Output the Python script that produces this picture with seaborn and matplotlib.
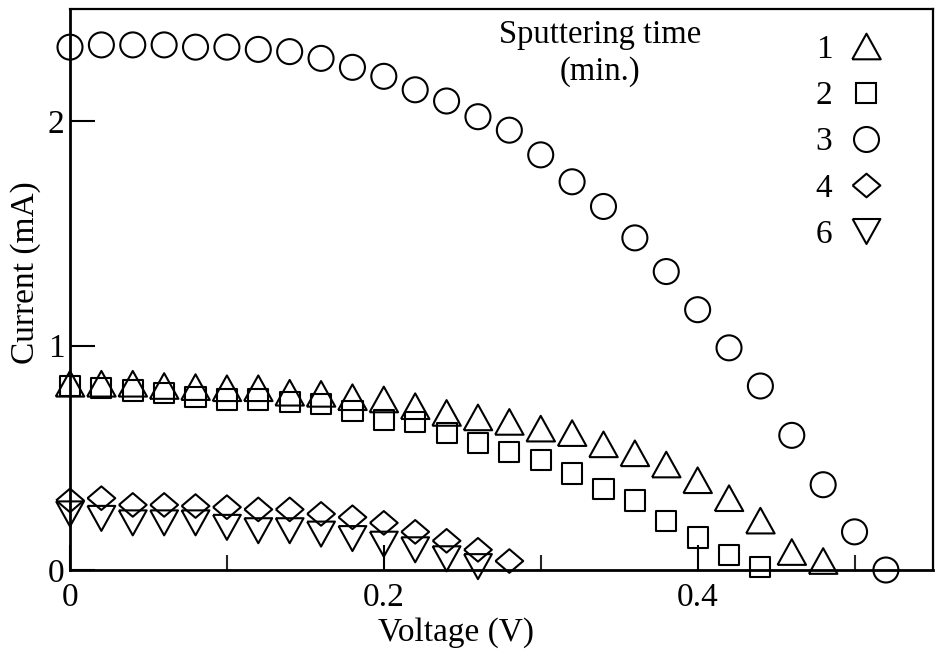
import numpy as np
import pandas as pd
import matplotlib
matplotlib.use("Agg")
import matplotlib.pyplot as plt
from matplotlib.lines import Line2D
import seaborn as sns

# sputtering time (min.) -> I-V data
v1 = [0.00, 0.02, 0.04, 0.06, 0.08, 0.10, 0.12, 0.14, 0.16, 0.18, 0.20, 0.22, 0.24,
      0.26, 0.28, 0.30, 0.32, 0.34, 0.36, 0.38, 0.40, 0.42, 0.44, 0.46, 0.48]
i1 = [0.83, 0.83, 0.83, 0.82, 0.815, 0.81, 0.81, 0.79, 0.785, 0.77, 0.76, 0.73, 0.70,
      0.68, 0.66, 0.63, 0.61, 0.56, 0.52, 0.47, 0.40, 0.32, 0.22, 0.08, 0.04]

v2 = [0.00, 0.02, 0.04, 0.06, 0.08, 0.10, 0.12, 0.14, 0.16, 0.18, 0.20, 0.22, 0.24,
      0.26, 0.28, 0.30, 0.32, 0.34, 0.36, 0.38, 0.40, 0.42, 0.44]
i2 = [0.82, 0.81, 0.80, 0.79, 0.77, 0.76, 0.76, 0.75, 0.74, 0.71, 0.67, 0.66, 0.61,
      0.565, 0.525, 0.49, 0.43, 0.36, 0.31, 0.22, 0.145, 0.065, 0.015]

v3 = [0.00, 0.02, 0.04, 0.06, 0.08, 0.10, 0.12, 0.14, 0.16, 0.18, 0.20, 0.22, 0.24,
      0.26, 0.28, 0.30, 0.32, 0.34, 0.36, 0.38, 0.40, 0.42, 0.44, 0.46, 0.48, 0.50, 0.52]
i3 = [2.33, 2.34, 2.34, 2.34, 2.33, 2.33, 2.32, 2.31, 2.28, 2.24, 2.20, 2.14, 2.09,
      2.02, 1.96, 1.85, 1.73, 1.62, 1.48, 1.33, 1.16, 0.99, 0.82, 0.60, 0.38, 0.17, 0.0]

v4 = [0.00, 0.02, 0.04, 0.06, 0.08, 0.10, 0.12, 0.14, 0.16, 0.18, 0.20, 0.22, 0.24,
      0.26, 0.28]
i4 = [0.31, 0.32, 0.29, 0.29, 0.285, 0.28, 0.27, 0.27, 0.25, 0.235, 0.21, 0.17, 0.13,
      0.09, 0.04]

v6 = [0.00, 0.02, 0.04, 0.06, 0.08, 0.10, 0.12, 0.14, 0.16, 0.18, 0.20, 0.22, 0.24,
      0.26]
i6 = [0.25, 0.23, 0.21, 0.21, 0.21, 0.19, 0.175, 0.175, 0.16, 0.14, 0.115, 0.09, 0.05,
      0.015]

labels = ["1", "2", "3", "4", "6"]

# open black markers
tri_up = [(-1, -0.9), (1, -0.9), (0, 0.9), (-1, -0.9)]
tri_dn = [(-1, 0.9), (1, 0.9), (0, -0.9), (-1, 0.9)]
diamond = [(-1, 0), (0, 0.85), (1, 0), (0, -0.85), (-1, 0)]
styles = [
    (tri_up, 20.5),
    ("s", 14.5),
    ("o", 18),
    (diamond, 20),
    (tri_dn, 20),
]

sns.set_theme(style="ticks")
plt.rcParams["font.family"] = ["Liberation Serif", "DejaVu Serif"]
plt.rcParams["text.color"] = "black"

fig = plt.figure(figsize=(9.41, 6.63), dpi=100)
ax = fig.add_axes([70 / 941, 1 - 570 / 663, 863 / 941, 561 / 663])

series = [(v1, i1), (v2, i2), (v3, i3), (v4, i4), (v6, i6)]
handles = []
for (v, i), lab, (mk, ms) in zip(series, labels, styles):
    df = pd.DataFrame({"Voltage": v, "Current": i})
    sns.scatterplot(data=df, x="Voltage", y="Current", ax=ax, marker=mk, s=ms ** 2,
                    facecolors="none", edgecolor="black", linewidth=1.5,
                    clip_on=False, zorder=3)
    handles.append(Line2D([], [], linestyle="", marker=mk, markersize=ms,
                          markerfacecolor="none", markeredgecolor="black",
                          markeredgewidth=1.5, label=lab))

ax.set_xlim(0, 0.55)
ax.set_ylim(0, 2.5)
ax.set_xticks([0, 0.2, 0.4])
ax.set_xticklabels(["0", "0.2", "0.4"])
ax.set_xticks([0.1, 0.3, 0.5], minor=True)
ax.set_yticks([0, 1, 2])
ax.set_yticklabels(["0", "1", "2"])
ax.tick_params(axis="both", which="major", direction="in", length=18, width=1.5,
               labelsize=24, colors="black")
ax.tick_params(axis="x", which="major", pad=9)
ax.tick_params(axis="y", which="major", pad=4)
ax.tick_params(axis="x", which="minor", direction="in", length=11, width=1.5)
for sp in ax.spines.values():
    sp.set_visible(True)
    sp.set_linewidth(1.6)
    sp.set_color("black")
ax.spines["left"].set_linewidth(2)
ax.spines["bottom"].set_linewidth(2)

ax.set_xlabel("Voltage (V)", fontsize=24, color="black")
ax.set_ylabel("Current (mA)", fontsize=24, color="black")
ax.xaxis.set_label_coords(0.447, -0.085)
ax.yaxis.set_label_coords(-0.034, 0.53)

ax.text(0.614, 0.982, "Sputtering time\n(min.)", transform=ax.transAxes,
        ha="center", va="top", fontsize=23.5, linespacing=1.3, color="black")
leg = ax.legend(handles=handles, loc="upper right", bbox_to_anchor=(0.978, 1.008),
                frameon=False, markerfirst=False, fontsize=24, labelspacing=0.47,
                handletextpad=0.45, handlelength=1.1)
for t in leg.get_texts():
    t.set_color("black")

plt.savefig("out.png", dpi=100)
